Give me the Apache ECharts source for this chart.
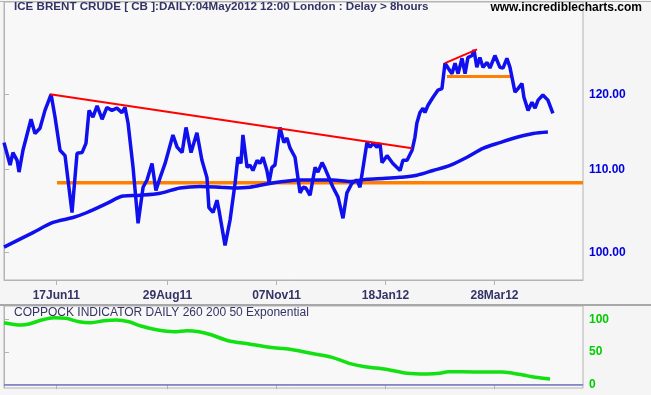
<!DOCTYPE html>
<html><head><meta charset="utf-8">
<script src="https://cdn.jsdelivr.net/npm/echarts@6/dist/echarts.min.js"></script>
<style>html,body{margin:0;padding:0;background:#f6f5f6}#c{width:651px;height:395px}</style>
</head><body><div id="c"></div>
<script>
// x values are trading-day indices from the first bar
const tickIdx = [24, 75, 125, 175, 225];
const tickLabels = ['17Jun11', '29Aug11', '07Nov11', '18Jan12', '28Mar12'];
const priceTicks = [100, 110, 120];
const coppockTicks = [0, 50, 100];

const price = [[0,113.5],[2.8,110.6],[4.1,112.2],[6.0,111.2],[6.9,109.7],[8.7,112.5],[12.4,116.6],[14.2,114.7],[16.5,115.4],[18.8,117.8],[21.6,120.0],[23.4,116.9],[25.7,112.5],[28.0,111.8],[31.2,104.7],[33.5,112.1],[35.8,112.2],[37.6,113.4],[39.0,117.8],[40.8,116.9],[42.7,118.4],[45.0,116.6],[47.2,118.2],[49.5,117.8],[51.8,118.1],[54.1,117.5],[55.5,118.2],[56.9,116.1],[59.2,110.3],[61.5,103.4],[63.8,107.8],[65.6,108.7],[67.9,110.8],[69.7,107.4],[71.6,109.0],[73.9,110.8],[77.5,114.5],[79.4,112.9],[81.7,112.2],[83.5,115.5],[85.8,112.2],[88.5,114.8],[90.8,111.2],[93.1,109.0],[94.0,105.3],[95.9,104.7],[97.7,106.2],[98.6,105.0],[101.4,100.8],[103.7,103.8],[106.0,108.3],[107.3,111.6],[108.7,110.8],[109.6,114.5],[111.5,110.3],[112.8,110.6],[114.2,109.9],[116.1,111.2],[117.4,110.8],[118.8,111.6],[120.6,109.9],[121.6,108.4],[122.9,110.3],[124.3,110.6],[126.6,115.5],[128.4,113.5],[129.8,114.1],[131.2,112.8],[133.5,111.6],[135.8,107.1],[137.2,107.8],[138.5,107.7],[139.4,107.8],[140.4,106.8],[142.7,110.3],[144.0,109.7],[145.9,110.9],[147.2,110.2],[149.5,108.7],[150.9,107.8],[153.2,106.6],[155.5,104.0],[157.3,107.1],[159.6,108.3],[161.9,108.7],[163.3,107.8],[164.2,107.7],[166.5,113.5],[167.9,112.9],[169.3,113.4],[171.1,112.9],[172.5,113.4],[173.4,110.9],[175.7,111.8],[178.4,110.8],[181.7,109.9],[183.0,111.2],[184.9,111.2],[187.2,112.5],[188.5,114.2],[189.4,116.1],[190.8,117.5],[192.2,118.1],[193.1,117.5],[194.5,118.5],[196.8,119.6],[199.1,120.6],[200.9,120.8],[202.3,124.4],[203.7,123.7],[205.5,122.9],[206.9,124.4],[208.3,122.9],[210.1,125.1],[211.5,122.9],[212.8,125.2],[214.7,125.5],[215.6,126.3],[216.9,123.8],[218.3,125.2],[219.7,123.8],[221.6,124.5],[222.9,123.7],[225.2,125.5],[227.5,123.8],[228.9,123.7],[230.7,125.1],[232.1,123.8],[234.4,120.3],[235.8,120.8],[237.6,121.5],[238.5,119.6],[240.4,117.8],[242.2,118.9],[243.6,118.1],[245.0,119.2],[247.2,119.9],[249.5,119.2],[251.8,117.4]];

const movingAvg = [[0,100.6],[13.3,102.3],[22.5,103.5],[31.7,104.1],[38.1,104.7],[47.2,105.8],[54.6,106.7],[62.4,106.8],[71.6,107.05],[80.7,107.7],[89.9,107.9],[99.1,107.8],[105,107.7],[112.8,107.8],[120.6,108.2],[128,108.5],[135.8,108.7],[150.9,108.7],[158.7,108.5],[166.5,108.8],[173.9,108.9],[181.7,109.04],[189.4,109.3],[196.8,109.9],[204.6,110.56],[212.4,111.6],[219.7,112.75],[227.5,113.5],[235.3,114.2],[242.7,114.7],[249.5,114.9]];

const trendDown = [[21.1,120.0],[187.2,112.75]];
const trendTop = [[202.3,124.4],[217,126.4]];
const supportLong = [[24.3,108.35],[265.6,108.35]];
const supportTop = [[203.2,122.5],[232.6,122.5]];

const coppock = [[0,94.8],[7.8,91.2],[11.5,92.8],[17.2,98.9],[22.9,102.5],[28.4,101.5],[34.4,96.3],[39.9,94.8],[45.9,97.8],[51.4,98.9],[57.3,96.3],[62.8,89.7],[70.6,83.5],[78,80.9],[83.9,82.5],[89.4,80.9],[95.4,75.8],[102.8,67.1],[112.4,62],[122,56.9],[131.2,53.8],[140.8,47.7],[150.5,41.5],[158.3,32.3],[165.6,27.1],[175.2,23.1],[184.9,16.9],[194,15.8],[200,16.9],[203.7,19.4],[217,18.9],[228.4,18.9],[232.1,17.8],[238.1,14.3],[243.6,10.8],[250.5,8.2]];

const xMax = 265.6;
const yMin = 96.85, yMax = 133.5;
const cMin = -5.7, cMax = 120.5;

const navy = '#333366';
const frame = '#b4b4b4';
const font = 'Liberation Sans, Arial, sans-serif';
const toLog = a => a.map(p => [p[0], Math.log(p[1])]);

function xAx(grid, showLabels) {
  return {
    type: 'value', gridIndex: grid, min: 0, max: xMax,
    axisLine: {show: true, lineStyle: {color: frame}},
    axisTick: {show: true, customValues: tickIdx, length: 5, lineStyle: {color: frame}},
    axisLabel: {show: showLabels, customValues: tickIdx,
      formatter: v => { const k = tickIdx.findIndex(t => Math.abs(t - v) < 1e-6); return k >= 0 ? tickLabels[k] : ''; },
      color: navy, fontWeight: 'bold', fontSize: 12, fontFamily: font, margin: 10},
    splitLine: {show: false}
  };
}

function lineSeries(data, color, width, extra) {
  return Object.assign({type: 'line', data: data, showSymbol: false, symbol: 'none', silent: true,
    lineStyle: {color: color, width: width}, itemStyle: {color: color}}, extra || {});
}

const chart = echarts.init(document.getElementById('c'));
chart.setOption({
  animation: false,
  backgroundColor: '#f6f5f6',
  textStyle: {fontFamily: font},
  title: [
    {text: 'ICE BRENT CRUDE [ CB ]:DAILY:04May2012 12:00 London : Delay > 8hours', left: 14, top: 1, padding: 0,
      textStyle: {color: navy, fontSize: 11.6, fontWeight: 'bold', fontFamily: font}},
    {text: 'www.incrediblecharts.com', right: 9, top: 2, padding: 0,
      textStyle: {color: '#000', fontSize: 12, fontWeight: 'bold', fontFamily: font}},
    {text: 'COPPOCK INDICATOR DAILY 260 200 50 Exponential', left: 14, top: 307, padding: 0,
      textStyle: {color: navy, fontSize: 12, fontWeight: 'normal', fontFamily: font}}
  ],
  graphic: [
    {type: 'line', shape: {x1: 0, y1: 305, x2: 651, y2: 305}, style: {stroke: '#a8a8a8', lineWidth: 2}, silent: true},
    {type: 'line', shape: {x1: 0, y1: 1.5, x2: 651, y2: 1.5}, style: {stroke: '#b4b4b4', lineWidth: 1}, silent: true}
  ],
  grid: [
    {left: 4, top: 2, width: 579, height: 278, show: true, borderColor: frame, borderWidth: 1, backgroundColor: '#f8f8f8'},
    {left: 4, top: 306, width: 579, height: 82, show: true, borderColor: frame, borderWidth: 1, backgroundColor: '#f8f8f8'}
  ],
  xAxis: [xAx(0, true), xAx(1, false)],
  yAxis: [
    {type: 'value', gridIndex: 0, position: 'right', min: Math.log(yMin), max: Math.log(yMax),
      axisLine: {show: true, lineStyle: {color: frame}},
      axisTick: {show: true, customValues: priceTicks.map(Math.log), length: 5, lineStyle: {color: frame}},
      axisLabel: {customValues: priceTicks.map(Math.log), formatter: v => Math.exp(v).toFixed(2),
        color: '#0000dd', fontWeight: 'bold', fontSize: 12, fontFamily: font, margin: 6},
      splitLine: {show: false}},
    {type: 'value', gridIndex: 1, position: 'right', min: cMin, max: cMax,
      axisLine: {show: true, lineStyle: {color: frame}},
      axisTick: {show: true, customValues: coppockTicks, length: 5, lineStyle: {color: frame}},
      axisLabel: {customValues: coppockTicks, formatter: v => String(Math.round(v)),
        color: '#00cc00', fontWeight: 'bold', fontSize: 12, fontFamily: font, margin: 6},
      splitLine: {show: false}}
  ],
  series: [
    lineSeries(toLog(supportLong), '#ff8000', 3.5, {xAxisIndex: 0, yAxisIndex: 0}),
    lineSeries(toLog(supportTop), '#ff8000', 3, {xAxisIndex: 0, yAxisIndex: 0}),
    lineSeries(toLog(movingAvg), '#1010ee', 3.5, {xAxisIndex: 0, yAxisIndex: 0, smooth: 0.3}),
    lineSeries(toLog(price), '#1010ee', 3.5, {xAxisIndex: 0, yAxisIndex: 0}),
    lineSeries(toLog(trendDown), '#ff0000', 2, {xAxisIndex: 0, yAxisIndex: 0}),
    lineSeries(toLog(trendTop), '#ff0000', 2, {xAxisIndex: 0, yAxisIndex: 0}),
    lineSeries(coppock, '#11e011', 3.5, {xAxisIndex: 1, yAxisIndex: 1, smooth: 0.3,
      markLine: {silent: true, symbol: 'none', label: {show: false}, animation: false,
        lineStyle: {color: '#7878c8', width: 1.5, type: 'solid'}, data: [{yAxis: 0}]}})
  ]
});
</script>
</body></html>
